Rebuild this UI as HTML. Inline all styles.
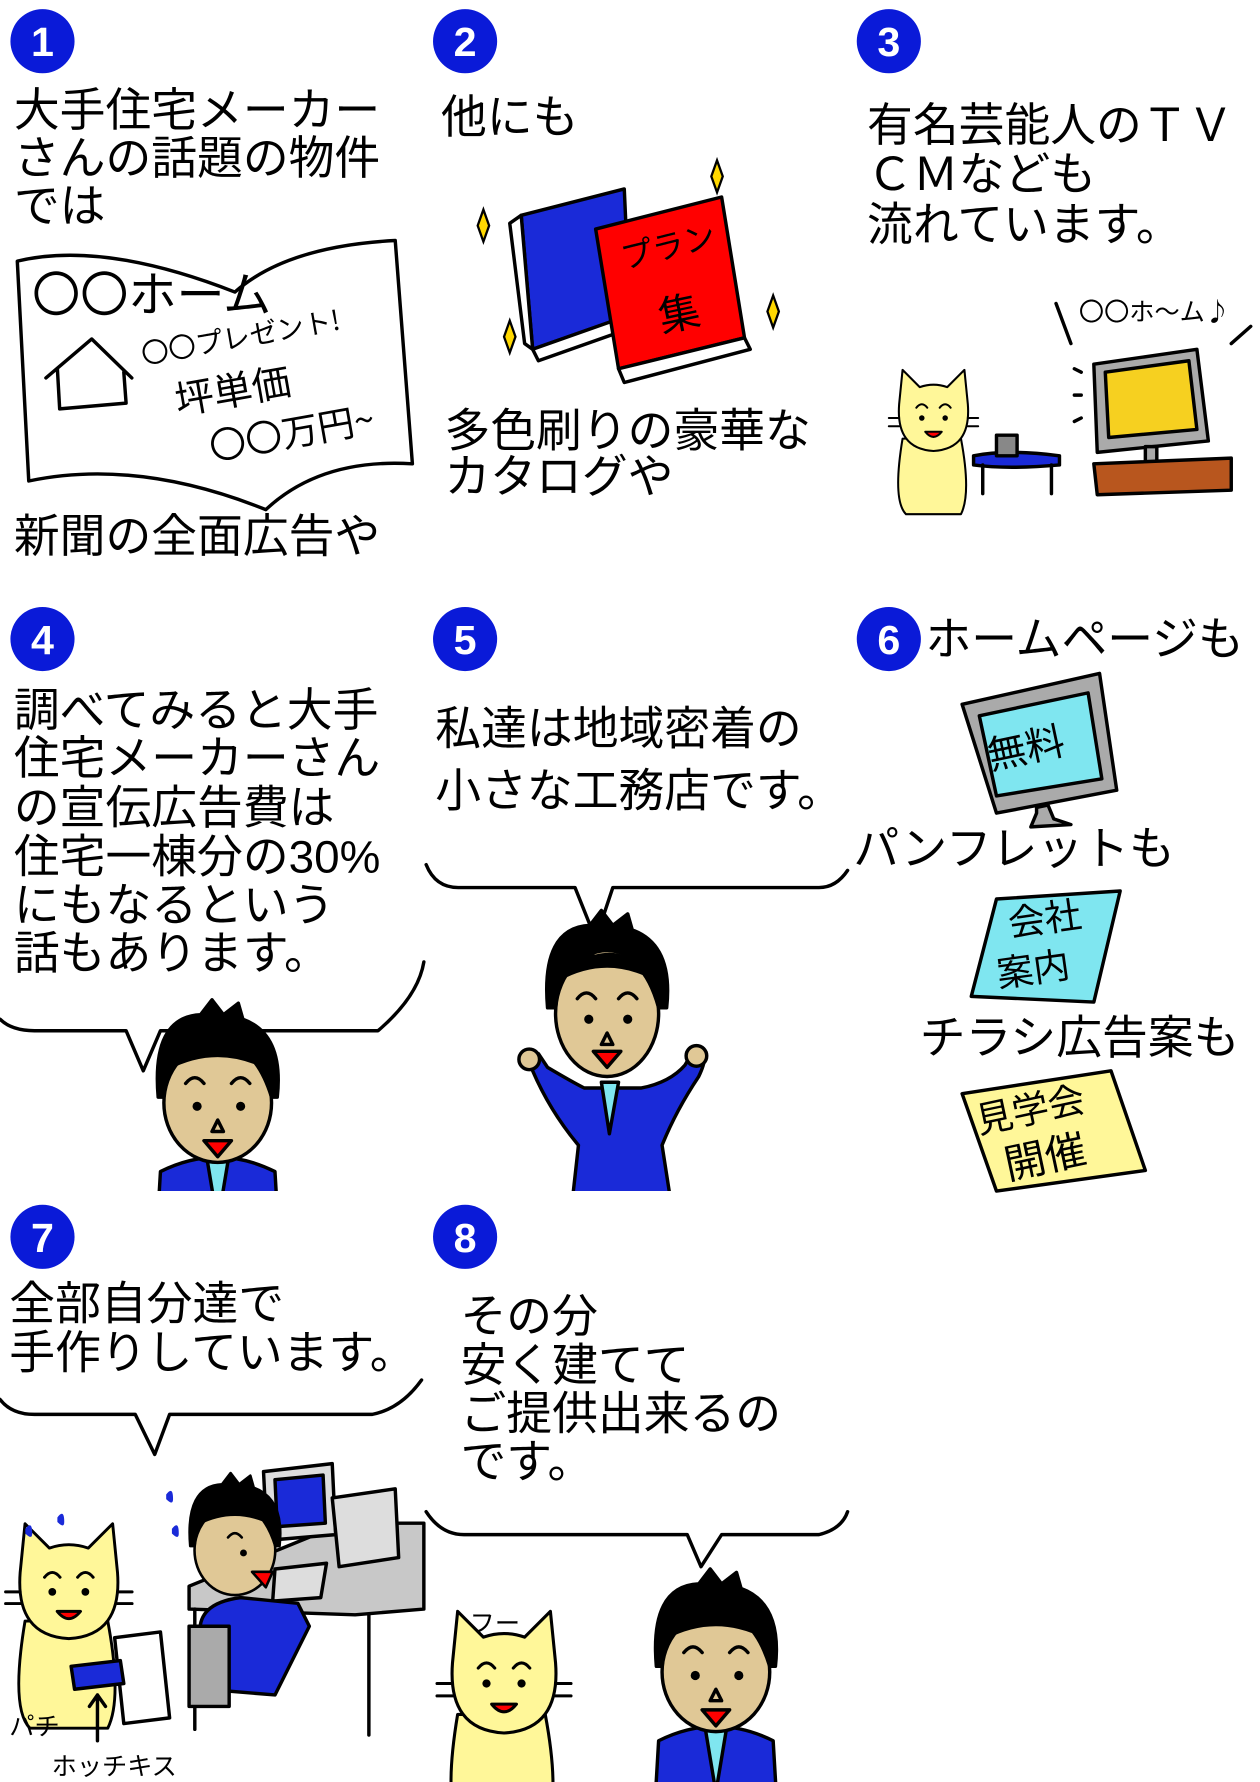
<!DOCTYPE html>
<html><head><meta charset="utf-8"><style>
html,body{margin:0;padding:0;background:#fff;}
svg{display:block;}
text{font-family:"Liberation Sans","Noto Sans CJK JP",sans-serif;fill:#000;}
.t{font-size:40px;}
.j{font-family:"Noto Sans CJK JP",sans-serif;}
.n{font-size:36px;fill:#fff;font-weight:bold;}
.s{stroke:#000;stroke-width:3;stroke-linejoin:round;stroke-linecap:round;}
</style></head><body>
<svg width="1260" height="1782" viewBox="0 0 1100 1556" xmlns="http://www.w3.org/2000/svg">
<defs>
<clipPath id="r2"><rect x="0" y="520" width="1100" height="520"/></clipPath>
<clipPath id="r3"><rect x="0" y="1045" width="1100" height="511"/></clipPath>
<g id="num"><circle r="28" fill="#0a1ad8"/></g>
<g id="man">
 <path class="s" d="M-55,150 L-50,65 Q0,40 50,65 L55,150 Z" fill="#1a2ad8"/>
 <path class="s" d="M-10,50 L0,110 L10,50 Z" fill="#7fe6f0"/>
 <path class="s" d="M-52,0 Q-58,-70 -15,-72 L-5,-85 L5,-72 L18,-82 L22,-68 Q58,-55 52,0 Z" fill="#000"/>
 <ellipse class="s" cx="0" cy="5" rx="47" ry="52" fill="#e0c896"/>
 <path class="s" d="M-47,0 Q-50,-50 -10,-45 Q30,-55 47,0 L44,-25 Q0,-48 -44,-25 Z" fill="#000"/>
 <path class="s" d="M-28,-12 q8,-10 16,0 M12,-12 q8,-10 16,0" fill="none"/>
 <circle cx="-18" cy="8" r="4"/><circle cx="20" cy="8" r="4"/>
 <path class="s" d="M0,20 l-5,10 h10 z" fill="none"/>
 <path class="s" d="M-12,38 h24 l-12,14 z" fill="#f00"/>
</g>
<g id="cat">
 <path class="s" d="M-45,30 Q-60,120 -40,140 L40,140 Q55,110 40,30 Z" fill="#fff799"/>
 <path class="s" d="M-50,-20 L-45,-70 L-20,-45 Q0,-52 20,-45 L45,-70 L50,-20 Q55,45 0,48 Q-55,45 -50,-20 Z" fill="#fff799"/>
 <path class="s" d="M-25,-15 q8,-10 16,0 M9,-15 q8,-10 16,0" fill="none"/>
 <circle cx="-17" cy="0" r="4"/><circle cx="17" cy="0" r="4"/>
 <path class="s" d="M-12,20 q12,15 24,0 z" fill="#f00"/>
 <path class="s" d="M-50,0 h-15 M-50,12 h-15 M50,0 h15 M50,12 h15" fill="none"/>
</g>
</defs>

<!-- Panel 1 -->
<use href="#num" x="37" y="36"/><text class="n" x="37" y="49" text-anchor="middle">1</text>
<text class="t" x="12" y="110">大手住宅メーカー</text>
<text class="t" x="12" y="152">さんの話題の物件</text>
<text class="t" x="12" y="194">では</text>
<path class="s" d="M15,228 Q90,210 205,255 Q250,215 345,210 L360,405 Q280,400 232,445 Q120,400 25,420 Z" fill="#fff"/>
<text class="j" x="28" y="272" font-size="42">〇〇ホーム</text>
<path class="s" d="M40,330 L80,296 L115,330 M50,322 L52,357 L110,352 L108,325" fill="none"/>
<text class="j" x="125" y="318" font-size="24" transform="rotate(-10 125 318)">〇〇プレゼント!</text>
<text class="j" x="155" y="362" font-size="34" transform="rotate(-10 155 362)">坪単価</text>
<text class="j" x="185" y="402" font-size="32" transform="rotate(-10 185 402)">〇〇万円~</text>
<text class="t" x="12" y="482">新聞の全面広告や</text>

<!-- Panel 2 -->
<use href="#num" x="406" y="36"/><text class="n" x="406" y="49" text-anchor="middle">2</text>
<text class="t" x="385" y="116">他にも</text>
<path class="s" d="M455,188 L545,165 L550,275 L465,305 Z" fill="#1a2ad8"/>
<path class="s" d="M465,305 L550,275 L555,285 L470,315 Z M445,195 L455,188 L465,305 L458,300 Z" fill="#fff"/>
<path class="s" d="M520,200 L630,172 L650,295 L540,322 Z" fill="#f00"/>
<path class="s" d="M540,322 L650,295 L655,305 L545,334 Z" fill="#fff"/>
<text class="j" x="545" y="235" font-size="28" transform="rotate(-14 545 235)">プラン</text>
<text class="j" x="578" y="290" font-size="36" transform="rotate(-12 578 290)">集</text>
<path d="M422,183 l5,14 l-5,14 l-5,-14 z M626,140 l5,14 l-5,14 l-5,-14 z M445,280 l5,14 l-5,14 l-5,-14 z M675,258 l5,14 l-5,14 l-5,-14 z" fill="#ffd800" stroke="#000" stroke-width="2"/>
<text class="t" x="388" y="390">多色刷りの豪華な</text>
<text class="t" x="388" y="430">カタログや</text>

<!-- Panel 3 -->
<use href="#num" x="776" y="36"/><text class="n" x="776" y="49" text-anchor="middle">3</text>
<text class="t" x="757" y="123">有名芸能人のＴＶ</text>
<text class="t" x="757" y="166">ＣＭなども</text>
<text class="t" x="757" y="210">流れています。</text>
<text class="j" x="942" y="280" font-size="22">〇〇ホ～ム♪</text>
<path class="s" d="M922,265 L935,300 M1092,285 L1075,300 M938,322 l6,3 M938,345 l6,0 M938,368 l6,-3" fill="none"/>
<path class="s" d="M955,318 L1045,305 L1055,385 L958,395 Z" fill="#aaa"/>
<path class="s" d="M965,325 L1038,315 L1045,375 L968,382 Z" fill="#f6d020"/>
<path class="s" d="M1000,390 h10 v15 h-10 z" fill="#aaa"/>
<path class="s" d="M955,405 L1075,400 L1075,428 L958,432 Z" fill="#b8561e"/>
<path class="s" d="M850,398 Q880,392 925,398 L925,406 Q880,410 850,406 Z" fill="#1a2ad8"/>
<path class="s" d="M858,406 v25 M918,406 v25" fill="none"/>
<path class="s" d="M870,380 h18 v18 h-18 z" fill="#888"/>
<g transform="translate(815,365) scale(0.6)"><use href="#cat"/></g>

<!-- Panel 4 -->
<use href="#num" x="37" y="558"/><text class="n" x="37" y="571" text-anchor="middle">4</text>
<text class="t" x="12" y="634">調べてみると大手</text>
<text class="t" x="12" y="676">住宅メーカーさん</text>
<text class="t" x="12" y="719">の宣伝広告費は</text>
<text class="t" x="12" y="762">住宅一棟分の30%</text>
<text class="t" x="12" y="804">にもなるという</text>
<text class="t" x="12" y="846">話もあります。</text>
<path class="s" d="M0,890 Q10,900 30,900 L110,900 L125,935 L140,900 L330,900 Q365,870 370,840" fill="none"/>
<g clip-path="url(#r2)"><g transform="translate(190,958)"><use href="#man"/></g></g>

<!-- Panel 5 -->
<use href="#num" x="406" y="558"/><text class="n" x="406" y="571" text-anchor="middle">5</text>
<text class="t" x="380" y="650">私達は地域密着の</text>
<text class="t" x="380" y="704">小さな工務店です。</text>
<path class="s" d="M372,755 Q380,775 400,775 L502,775 L520,820 L535,775 L715,775 Q730,775 740,760" fill="none"/>
<g clip-path="url(#r2)">
<path class="s" d="M465,935 Q452,915 470,920 L478,932 Q500,945 510,950 L560,950 Q585,945 598,930 L605,918 Q622,915 610,940 Q590,970 578,1000 L585,1045 L500,1045 L505,1000 Q480,970 465,935 Z" fill="#1a2ad8"/>
<circle class="s" cx="462" cy="925" r="9" fill="#e0c896"/><circle class="s" cx="608" cy="922" r="9" fill="#e0c896"/>
<path class="s" d="M525,945 L532,990 L540,945 Z" fill="#7fe6f0"/>
<g transform="translate(530,880)">
 <path class="s" d="M-52,0 Q-58,-70 -15,-72 L-5,-85 L5,-72 L18,-82 L22,-68 Q58,-55 52,0 Z" fill="#000"/>
 <ellipse class="s" cx="0" cy="5" rx="45" ry="55" fill="#e0c896"/>
 <path class="s" d="M-45,0 Q-48,-50 -10,-45 Q30,-55 45,0 L42,-25 Q0,-48 -42,-25 Z" fill="#000"/>
 <path class="s" d="M-26,-8 q8,-10 16,0 M10,-8 q8,-10 16,0" fill="none"/>
 <circle cx="-16" cy="10" r="4"/><circle cx="18" cy="10" r="4"/>
 <path class="s" d="M0,22 l-5,10 h10 z" fill="none"/>
 <path class="s" d="M-12,38 h24 l-12,14 z" fill="#f00"/>
</g>
</g>

<!-- Panel 6 -->
<use href="#num" x="776" y="558"/><text class="n" x="776" y="571" text-anchor="middle">6</text>
<text class="t" x="808" y="572">ホームページも</text>
<path class="s" d="M840,615 L960,588 L975,690 L870,710 Z" fill="#aaa"/>
<path class="s" d="M855,625 L950,605 L962,680 L870,695 Z" fill="#7fe6f0"/>
<text class="j" x="865" y="672" font-size="34" transform="rotate(-12 865 672)">無料</text>
<path class="s" d="M905,705 L915,703 L920,715 L935,720 L900,722 L905,710 Z" fill="#aaa"/>
<text class="t" x="745" y="755">パンフレットも</text>
<path class="s" d="M870,785 L978,778 L955,875 L848,870 Z" fill="#7fe6f0"/>
<text class="j" x="882" y="818" font-size="32" transform="rotate(-8 882 818)">会社</text>
<text class="j" x="872" y="862" font-size="32" transform="rotate(-8 872 862)">案内</text>
<text class="t" x="803" y="920">チラシ広告案も</text>
<path class="s" d="M840,955 L970,935 L1000,1022 L870,1040 Z" fill="#fff799"/>
<text class="j" x="855" y="990" font-size="32" transform="rotate(-12 855 990)">見学会</text>
<text class="j" x="880" y="1030" font-size="36" transform="rotate(-12 880 1030)">開催</text>

<!-- Panel 7 -->
<use href="#num" x="37" y="1080"/><text class="n" x="37" y="1093" text-anchor="middle">7</text>
<text class="t" x="8" y="1152">全部自分達で</text>
<text class="t" x="8" y="1195">手作りしています。</text>
<path class="s" d="M0,1222 Q10,1235 30,1235 L118,1235 L135,1270 L148,1235 L325,1235 Q350,1230 368,1205" fill="none"/>
<path class="s" d="M165,1385 L300,1330 L370,1330 L370,1405 L310,1410 L165,1405 Z" fill="#c8c8c8"/>
<path class="s" d="M170,1405 v105 M322,1410 v105" fill="none"/>
<path class="s" d="M230,1285 L290,1278 L293,1340 L233,1345 Z" fill="#ddd"/>
<path class="s" d="M240,1292 L282,1288 L284,1330 L242,1333 Z" fill="#1a2ad8"/>
<path class="s" d="M290,1308 L345,1300 L348,1360 L296,1368 Z" fill="#ddd"/>
<path class="s" d="M240,1370 L285,1365 L280,1395 L238,1398 Z" fill="#ddd"/>
<path class="s" d="M175,1430 Q170,1400 210,1395 L260,1400 L270,1420 L240,1480 L180,1475 Z" fill="#1a2ad8"/>
<path class="s" d="M165,1420 L200,1420 L200,1490 L165,1490 Z" fill="#aaa"/>
<g clip-path="url(#r3)"><g transform="translate(205,1350) scale(0.75)">
 <path class="s" d="M-52,0 Q-58,-70 -15,-72 L-5,-85 L5,-72 L18,-82 L22,-68 Q58,-55 52,0 Z" fill="#000"/>
 <ellipse class="s" cx="0" cy="5" rx="47" ry="52" fill="#e0c896"/>
 <path class="s" d="M-47,0 Q-50,-50 -10,-45 Q30,-55 47,0 L44,-25 Q0,-48 -44,-25 Z" fill="#000"/>
 <path class="s" d="M-8,-10 q8,-10 16,0" fill="none"/><circle cx="10" cy="8" r="4"/>
 <path class="s" d="M20,30 h24 l-8,18 z" fill="#f00"/>
</g></g>
<g transform="translate(60,1390) scale(0.85)"><use href="#cat"/></g>
<path class="s" d="M100,1430 L140,1425 L148,1500 L108,1505 Z" fill="#fff"/>
<path class="s" d="M62,1455 L105,1450 L108,1470 L65,1475 Z" fill="#1a2ad8"/>
<path class="s" d="M85,1520 V1480 M78,1490 L85,1480 L92,1490" fill="none"/>
<text class="j" x="8" y="1515" font-size="22">パチ</text>
<text class="j" x="45" y="1550" font-size="22">ホッチキス</text>
<path d="M22,1335 q6,-8 6,4 q0,6 -6,0 z M50,1325 q6,-8 6,4 q0,6 -6,0 z M145,1305 q6,-8 6,4 q0,6 -6,0 z M150,1335 q6,-8 6,4 q0,6 -6,0 z" fill="#1a2ad8"/>

<!-- Panel 8 -->
<use href="#num" x="406" y="1080"/><text class="n" x="406" y="1093" text-anchor="middle">8</text>
<text class="t" x="402" y="1163">その分</text>
<text class="t" x="402" y="1206">安く建てて</text>
<text class="t" x="402" y="1248">ご提供出来るの</text>
<text class="t" x="402" y="1290">です。</text>
<path class="s" d="M372,1320 Q385,1340 405,1340 L600,1340 L612,1368 L630,1340 L715,1340 Q735,1335 740,1320" fill="none"/>
<g clip-path="url(#r3)"><g transform="translate(625,1455)"><use href="#man"/></g>
<g transform="translate(440,1470) scale(0.9)"><use href="#cat"/></g></g>
<text class="j" x="410" y="1425" font-size="22">フー</text>
</svg>
</body></html>
